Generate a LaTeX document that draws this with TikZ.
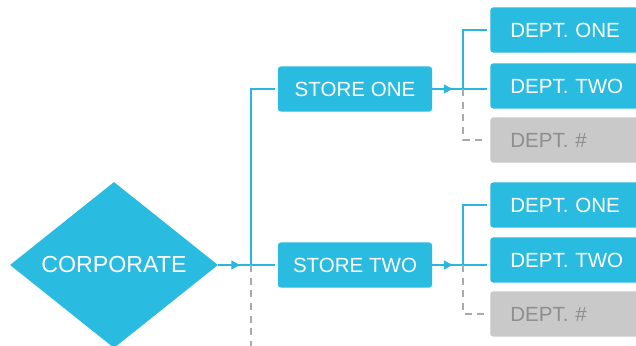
\documentclass[tikz,border=0pt]{standalone}
\usepackage{fontspec}
\setmainfont{Liberation Sans}
\usetikzlibrary{shapes.geometric}
\usetikzlibrary{arrows.meta}
\usetikzlibrary{decorations.markings}

\definecolor{orgblue}{HTML}{29BBE0}
\definecolor{orgline}{HTML}{2CB6DB}
\definecolor{orggrey}{HTML}{C9C9C9}
\definecolor{greytext}{HTML}{8E8E8E}
\definecolor{greyline}{HTML}{A9A9A9}

\begin{document}
\begin{tikzpicture}[x=0.025cm, y=-0.025cm,
    box/.style={fill=orgblue, text=white, rounded corners=2pt, inner sep=0pt,
      font=\fontsize{14.6}{17}\selectfont},
    store/.style={box, minimum width=3.85cm, minimum height=1.125cm},
    dept/.style={box, anchor=west, minimum height=1.125cm, text width=3.25cm,
      inner xsep=0.5cm, align=left},
    spare/.style={dept, fill=orggrey, text=greytext},
    link/.style={color=orgline, line width=1pt},
    spareline/.style={draw=greyline, line width=1pt, dash pattern=on 5pt off 4pt},
    midarrow/.style={link, postaction={decorate}, decoration={markings,
      mark=at position 0.7 with {\arrow{Latex[length=7pt,width=7pt]}}}}]

% page size, boxes run off the right edge
\useasboundingbox (0,0) rectangle (636,346);
\clip (0,0) rectangle (636,346);
\fill[white] (0,0) rectangle (636,346);

% corporate and stores
\node[diamond, aspect=1.25, fill=orgblue, text=white, inner sep=0pt,
      minimum width=5.2cm, minimum height=4.15cm,
      font=\fontsize{16.5}{19}\selectfont] (corp) at (114,265) {CORPORATE};
\node[store] (store1) at (355,89) {STORE ONE};
\node[store] (store2) at (355,265) {STORE TWO};

% departments
\node[dept]  (dA1) at (490,30)  {DEPT. ONE};
\node[dept]  (dA2) at (490,86)  {DEPT. TWO};
\node[spare] (dA3) at (490,140) {DEPT. \#};
\node[dept]  (dB1) at (490,205) {DEPT. ONE};
\node[dept]  (dB2) at (490,260) {DEPT. TWO};
\node[spare] (dB3) at (490,314) {DEPT. \#};

% junctions on the vertical lines
\coordinate (jc) at (251,265);
\coordinate (jcend) at (251,346);
\coordinate (ja) at (463,89);
\coordinate (jb) at (463,265);

% corporate to stores
\draw[midarrow] (corp.east) -- (jc);
\draw[link, shorten >=2pt] (jc) -- (store2.west);
\draw[link, shorten >=2pt] (jc) |- (store1.west);
\draw[spareline] (jc) -- (jcend);

% store one to departments
\draw[midarrow] (store1.east) -- (ja);
\draw[link, shorten >=2pt] (ja) -- (ja -| dA2.west);
\draw[link, shorten >=2pt] (ja) |- (dA1.west);
\draw[spareline, shorten >=2pt] (ja) |- (dA3.west);

% store two to departments
\draw[midarrow] (store2.east) -- (jb);
\draw[link, shorten >=2pt] (jb) -- (jb -| dB2.west);
\draw[link, shorten >=2pt] (jb) |- (dB1.west);
\draw[spareline, shorten >=2pt] (jb) |- (dB3.west);

\end{tikzpicture}
\end{document}
